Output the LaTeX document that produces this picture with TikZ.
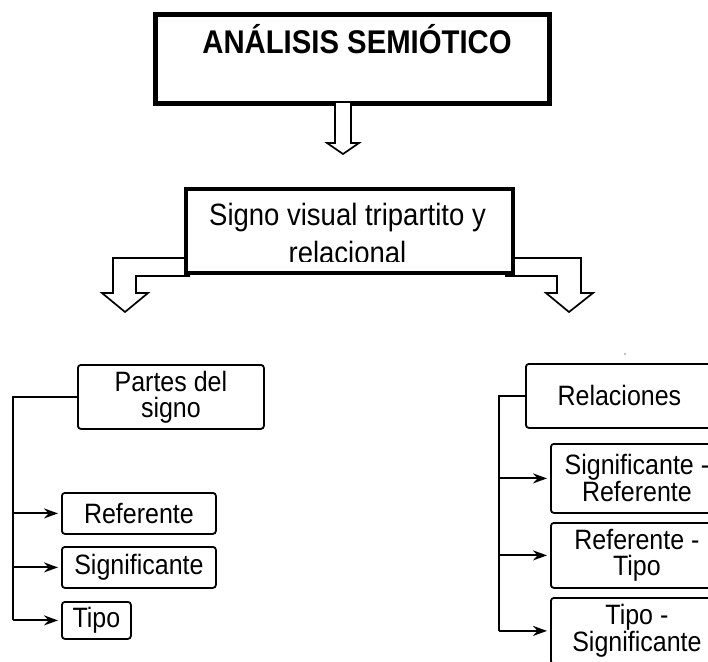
\documentclass[tikz,border=0pt]{standalone}
\usepackage{fontspec}
\setmainfont{Liberation Sans}
\usetikzlibrary{arrows.meta}
\newcommand\tall[1]{\scalebox{1}[1.12]{#1}}
\begin{document}
\begin{tikzpicture}[x=1pt,y=-1pt,
  box/.style={draw,line width=1.8pt,rounded corners=3pt,inner sep=0pt,align=center,
    font=\fontsize{25}{26}\selectfont},
  conn/.style={line width=2pt},
  arr/.style={line width=2pt,shorten >=3pt,-{Stealth[length=14pt,width=10pt]}},
  hollow/.style={draw,line width=1.7pt,fill=white,line join=miter}]
\useasboundingbox (0,0) rectangle (708,661);
\clip (0,0) rectangle (708,661);
\fill[white] (0,0) rectangle (708,661);

% top title box
\node[draw,line width=5pt,minimum width=394pt,minimum height=89pt,anchor=north west,inner sep=0pt] (top) at (153,12) {};
\node[font=\fontsize{29.3}{32}\selectfont\bfseries,anchor=base] (toptext) at (357,53) {\tall{ANÁLISIS SEMIÓTICO}};

% hollow down arrow
\draw[hollow] (335,103) -- (335,143) -- (327,143) -- (343,154) -- (359,143) -- (351,143) -- (351,103);

% hollow elbow arrows
\draw[hollow] (190,258) -- (113,258) -- (113,293) -- (102,293) -- (125,312) -- (148,293) -- (136,293) -- (136,276) -- (190,276);
\draw[hollow] (505,258) -- (581,258) -- (581,293) -- (593,293) -- (569,312) -- (546,293) -- (557,293) -- (557,276) -- (505,276);

% second box
\node[draw,line width=3.5pt,fill=white,minimum width=327pt,minimum height=84pt,anchor=north west,inner sep=0pt] (mid) at (184,187) {};
\node[font=\fontsize{27.5}{30}\selectfont,anchor=base] (midtext1) at (347.5,225) {\tall{Signo visual tripartito y}};
\begin{scope}
\clip (190,230) rectangle (505,261.5);
\node[font=\fontsize{27.5}{30}\selectfont,anchor=base] (midtext2) at (347.5,263) {\tall{relacional}};
\end{scope}

% left branch
\node[box,minimum width=186pt,minimum height=64pt,anchor=north west] (partes) at (77,364) {\tall{Partes del}\\\tall{signo}};
\node[box,minimum width=154pt,minimum height=41pt,anchor=north west] (ref) at (61,492) {\tall{Referente}};
\node[box,minimum width=154pt,minimum height=41pt,anchor=north west] (sig) at (61,546) {\tall{Significante}};
\node[box,minimum width=69pt,minimum height=37pt,anchor=north west] (tipo) at (61,601) {\tall{Tipo}};
\coordinate (ltrunk) at (13,0);
\draw[conn] (partes.west) -- (ltrunk |- partes.west) -- (ltrunk |- tipo.west);
\draw[arr] (ltrunk |- ref.west) -- (ref.west);
\draw[arr] (ltrunk |- sig.west) -- (sig.west);
\draw[arr] (ltrunk |- tipo.west) -- (tipo.west);

% right branch
\node[box,minimum width=187pt,minimum height=64pt,anchor=north west] (rel) at (525,363) {\tall{Relaciones}};
\node[box,minimum width=172pt,minimum height=69pt,anchor=north west] (sr) at (550,443) {\tall{Significante -}\\\tall{Referente}};
\node[box,minimum width=172pt,minimum height=65pt,anchor=north west] (rt) at (550,522) {\tall{Referente -}\\\tall{Tipo}};
\node[box,minimum width=172pt,minimum height=66pt,anchor=north west] (ts) at (550,597) {\tall{Tipo -}\\\tall{Significante}};
\coordinate (rtrunk) at (499,0);
\draw[conn] (rel.west) -- (rtrunk |- rel.west) -- (rtrunk |- ts.west);
\draw[arr] (rtrunk |- sr.west) -- (sr.west);
\draw[arr] (rtrunk |- rt.west) -- (rt.west);
\draw[arr] (rtrunk |- ts.west) -- (ts.west);

\fill (625,354) circle (0.7);
\end{tikzpicture}
\end{document}
